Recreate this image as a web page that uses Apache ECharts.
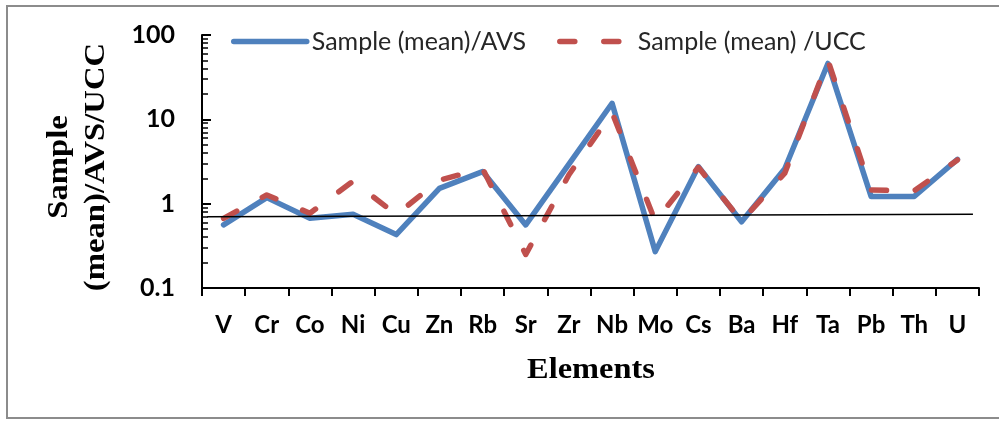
<!DOCTYPE html>
<html>
<head>
<meta charset="utf-8">
<script src="https://cdn.jsdelivr.net/npm/echarts@6/dist/echarts.min.js"></script>
<style>
  html, body { margin: 0; padding: 0; background: #ffffff; }
  #chart { width: 999px; height: 421px; }
</style>
</head>
<body>
<div id="chart"></div>
<script>
// Trace elements normalised to AVS and to the upper continental crust
const elements = ['V', 'Cr', 'Co', 'Ni', 'Cu', 'Zn', 'Rb', 'Sr', 'Zr', 'Nb', 'Mo', 'Cs', 'Ba', 'Hf', 'Ta', 'Pb', 'Th', 'U'];
const avsRatio = [0.56, 1.18, 0.67, 0.75, 0.43, 1.52, 2.4, 0.56, 2.95, 15.5, 0.27, 2.75, 0.61, 2.6, 46, 1.22, 1.22, 3.35];
const uccRatio = [0.67, 1.27, 0.77, 1.85, 0.74, 1.9, 2.6, 0.25, 2.2, 12, 0.62, 2.7, 0.62, 2.3, 50, 1.45, 1.42, 3.3];

// Near-flat reference line across the plot (x in category units, y ratio)
const refLineX = [0.12, 17.86];
const refLineY = [0.70, 0.75];

// Log axis ticks
const yMajorTicks = [0.1, 1, 10, 100];
const yMinorTicks = [0.2, 0.3, 0.4, 0.5, 0.6, 0.7, 0.8, 0.9,
                     2, 3, 4, 5, 6, 7, 8, 9,
                     20, 30, 40, 50, 60, 70, 80, 90];

const seriesNames = ['Sample (mean)/AVS', 'Sample (mean) /UCC'];

const chart = echarts.init(document.getElementById('chart'), null, { renderer: 'canvas' });

const tickFont = { fontFamily: 'Lato', fontWeight: 'bold', fontSize: 24, color: '#000000' };

chart.setOption({
  animation: false,
  backgroundColor: '#ffffff',
  grid: { left: 202, right: 20, top: 35, bottom: 133, containLabel: false },
  legend: {
    data: seriesNames,
    left: 231,
    top: 29,
    padding: 0,
    itemWidth: 73,
    itemHeight: 1,
    itemGap: 31,
    itemStyle: { opacity: 0 },
    lineStyle: { width: 5.5, cap: 'round' },
    textStyle: { fontFamily: 'Lato', fontSize: 25, color: '#262626' }
  },
  xAxis: [
    {
      type: 'category',
      data: elements,
      boundaryGap: true,
      axisLine: { lineStyle: { color: '#000000', width: 2 } },
      axisTick: { show: true, length: 8, lineStyle: { color: '#000000', width: 2 } },
      axisLabel: Object.assign({ margin: 25, interval: 0 }, tickFont),
      splitLine: { show: false }
    },
    {
      type: 'value',
      min: 0,
      max: elements.length,
      show: false
    }
  ],
  yAxis: [
    {
      type: 'log',
      logBase: 10,
      min: 0.1,
      max: 100,
      axisLine: { show: true, lineStyle: { color: '#000000', width: 2 } },
      axisTick: { show: true, inside: true, length: 9, lineStyle: { color: '#000000', width: 2 } },
      axisLabel: Object.assign({
        margin: 27,
        customValues: yMajorTicks,
        formatter: function (v) { return String(v); }
      }, tickFont, { fontSize: 25 }),
      splitLine: { show: false }
    },
    {
      type: 'log',
      logBase: 10,
      min: 0.1,
      max: 100,
      position: 'left',
      axisLine: { show: false },
      axisLabel: { show: false },
      axisTick: { show: true, inside: true, length: 6, customValues: yMinorTicks, lineStyle: { color: '#000000', width: 1.5 } },
      splitLine: { show: false }
    }
  ],
  series: [
    {
      name: seriesNames[0],
      type: 'line',
      data: avsRatio,
      symbol: 'none',
      lineStyle: { color: '#4F81BD', width: 5.5, cap: 'round', join: 'round' },
      itemStyle: { color: '#4F81BD' }
    },
    {
      name: seriesNames[1],
      type: 'line',
      data: uccRatio,
      symbol: 'none',
      lineStyle: { color: '#C0504D', width: 5.5, type: [15, 29], cap: 'round', join: 'round' },
      itemStyle: { color: '#C0504D' }
    },
    {
      name: 'reference',
      type: 'line',
      xAxisIndex: 1,
      data: refLineX.map(function (x, i) { return [x, refLineY[i]]; }),
      symbol: 'none',
      lineStyle: { color: '#000000', width: 1.6 },
      silent: true
    }
  ],
  graphic: [
    {
      type: 'rect',
      shape: { x: 7, y: 6, width: 1010, height: 412 },
      style: { fill: null, stroke: '#8c8c8c', lineWidth: 2 },
      z: -1, silent: true
    },
    {
      type: 'text',
      x: 78, y: 167,
      rotation: Math.PI / 2,
      scaleX: 1.09,
      style: {
        text: 'Sample\n(mean)/AVS/UCC',
        fontFamily: 'Liberation Serif', fontWeight: 'bold', fontSize: 30,
        lineHeight: 37,
        fill: '#000000', align: 'center', verticalAlign: 'middle'
      }
    },
    {
      type: 'text',
      x: 591, y: 370,
      scaleX: 1.08,
      style: {
        text: 'Elements',
        fontFamily: 'Liberation Serif', fontWeight: 'bold', fontSize: 30,
        fill: '#000000', align: 'center', verticalAlign: 'middle'
      }
    }
  ]
});
</script>
</body>
</html>
